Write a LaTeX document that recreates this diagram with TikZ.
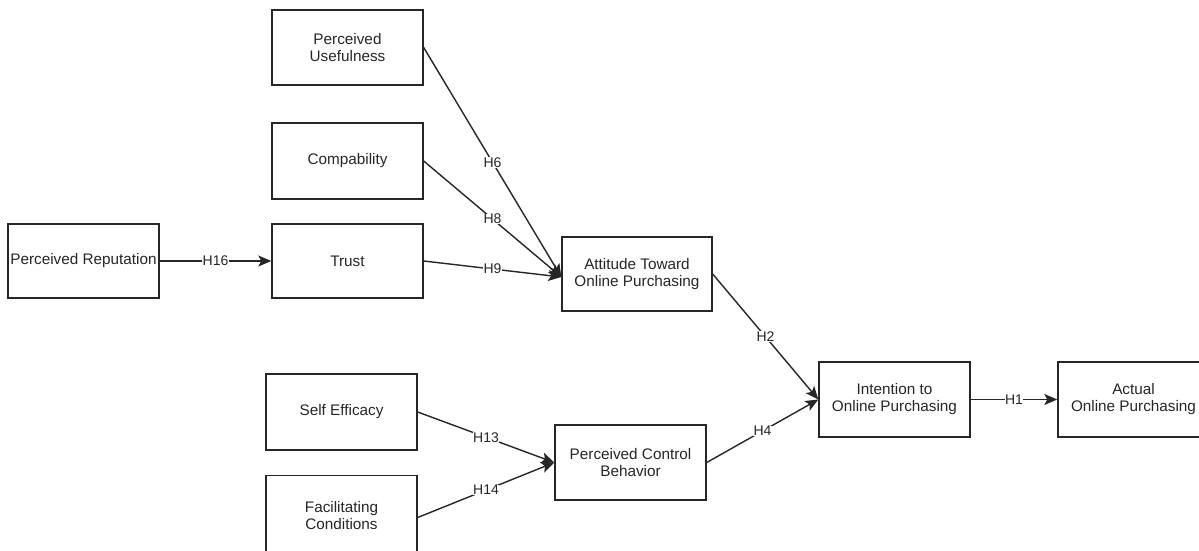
\documentclass[tikz,border=0pt]{standalone}
\usepackage{fontspec}
\setmainfont{Liberation Sans}
\usetikzlibrary{arrows.meta}
\begin{document}
\begin{tikzpicture}[x=1pt,y=-1pt,
  box/.style={draw=black!85, line width=1.4pt, rectangle, minimum width=151pt, minimum height=75pt,
    inner sep=1pt, align=center, font=\fontsize{15.3}{17}\selectfont, text=black!85},
  link/.style={draw=black!85, line width=1.4pt, -{Stealth[length=13pt,width=11pt,inset=3pt]}},
  lbl/.style={fill=white, inner sep=0.5pt, font=\fontsize{14}{16}\selectfont, text=black!85, pos=0.5}]
\useasboundingbox (0,0) rectangle (1199,550);
\node[box] (pu) at (347.5,47.5) {Perceived\\Usefulness};
\node[box, minimum height=76pt] (comp) at (347.5,161) {Compability};
\node[box, minimum height=74pt] (pr) at (83.5,261) {Perceived Reputation};
\node[box, minimum height=74pt] (trust) at (347.5,261) {Trust};
\node[box, minimum width=150pt, minimum height=74pt] (att) at (637,274) {Attitude Toward\\Online Purchasing};
\node[box, minimum height=76pt] (se) at (341.5,412) {Self Efficacy};
\node[box, minimum height=80pt] (fc) at (341.5,515.5) {Facilitating\\Conditions};
\node[box] (pcb) at (630.5,462.5) {Perceived Control\\Behavior};
\node[box] (int) at (894.5,399.5) {Intention to\\Online Purchasing};
\node[box] (act) at (1133.5,399.5) {Actual\\Online Purchasing};
\draw[link] (pr.east) -- node[lbl] {H16} (trust.west);
\draw[link] (pu.east) -- node[lbl] {H6} ([yshift=-3pt]att.west);
\draw[link] (comp.east) -- node[lbl] {H8} ([yshift=-3pt]att.west);
\draw[link] (trust.east) -- node[lbl] {H9} ([yshift=-3pt]att.west);
\draw[link] (att.east) -- node[lbl] {H2} (int.west);
\draw[link] (pcb.east) -- node[lbl] {H4} (int.west);
\draw[link] (se.east) -- node[lbl] {H13} (pcb.west);
\draw[link] ([yshift=-2pt]fc.east) -- node[lbl] {H14} (pcb.west);
\draw[link] (int.east) -- node[lbl] {H1} (act.west);
\end{tikzpicture}
\end{document}
